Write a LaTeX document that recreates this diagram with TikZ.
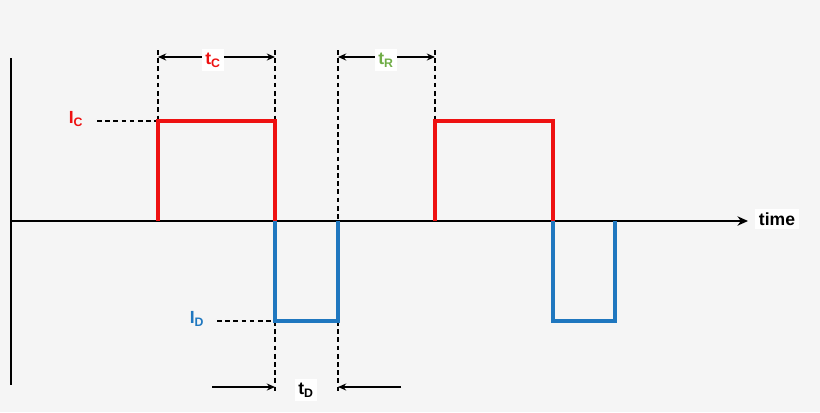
\documentclass[tikz,border=0pt]{standalone}
\usepackage{fontspec}
\setmainfont{Liberation Sans}
\usetikzlibrary{arrows.meta}
\definecolor{bg}{HTML}{F5F5F5}
\definecolor{pr}{HTML}{EE1111}
\definecolor{pb}{HTML}{1F77BF}
\definecolor{pg}{HTML}{70AD47}
\begin{document}
\begin{tikzpicture}[x=0.03cm,y=-0.03cm,
  ax/.style={line width=1.6pt,black},
  red/.style={line width=2.6pt,pr},
  blue/.style={line width=2.6pt,pb},
  dsh/.style={line width=0.9pt,dash pattern=on 4pt off 3pt},
  dim/.style={line width=1.2pt,-{Stealth[length=7pt,width=6pt]}},
  lbl/.style={font=\fontsize{15}{17}\selectfont\bfseries,fill=white,inner sep=3pt}]
\fill[bg] (0,0) rectangle (820,412);
\useasboundingbox (0,0) rectangle (820,412);
\coordinate (va) at (11,58); \coordinate (vb) at (11,385);
\draw[ax] (va) -- (vb);
\coordinate (h0) at (11,221); \coordinate (h1) at (748,221);
\draw[line width=1.6pt,-{Stealth[length=9pt,width=8pt]}] (h0) -- (h1);
\node[lbl] (time) at (777,219) {time};
% dashed guides
\draw[dsh] (97,121) -- (158,121);
\draw[dsh] (158,50) -- (158,121);
\draw[dsh] (275,50) -- (275,121);
\draw[dsh] (338,50) -- (338,221);
\draw[dsh] (435,50) -- (435,121);
\draw[dsh] (217,321) -- (275,321);
\draw[dsh] (275,321) -- (275,392);
\draw[dsh] (338,321) -- (338,392);
% pulses
\draw[red,line join=miter] (158,221) -- (158,121) -- (275,121) -- (275,221);
\draw[red,line join=miter] (435,221) -- (435,121) -- (553,121) -- (553,221);
\draw[blue,line join=miter] (275,221) -- (275,321) -- (338,321) -- (338,221);
\draw[blue,line join=miter] (553,221) -- (553,321) -- (615,321) -- (615,221);
% dimension arrows
\coordinate (c1) at (158,57); \coordinate (c2) at (275,57);
\draw[line width=1.2pt,{Stealth[length=7pt,width=6pt]}-{Stealth[length=7pt,width=6pt]}] (c1) -- (c2);
\node[lbl,text=pr] (tc) at (213,60) {t\textsubscript{C}};
\coordinate (r1) at (338,57); \coordinate (r2) at (435,57);
\draw[line width=1.2pt,{Stealth[length=7pt,width=6pt]}-{Stealth[length=7pt,width=6pt]}] (r1) -- (r2);
\node[lbl,text=pg] (tr) at (386,60) {t\textsubscript{R}};
\coordinate (d0) at (212,387); \coordinate (d1) at (275,387);
\coordinate (d2) at (401,387); \coordinate (d3) at (338,387);
\draw[dim] (d0) -- (d1);
\draw[dim] (d2) -- (d3);
\node[lbl] (td) at (306,390) {t\textsubscript{D}};
\node[font=\fontsize{15}{17}\selectfont\bfseries,text=pr] (ic) at (76,119) {I\textsubscript{C}};
\node[font=\fontsize{15}{17}\selectfont\bfseries,text=pb] (id) at (197,319) {I\textsubscript{D}};
\end{tikzpicture}
\end{document}
